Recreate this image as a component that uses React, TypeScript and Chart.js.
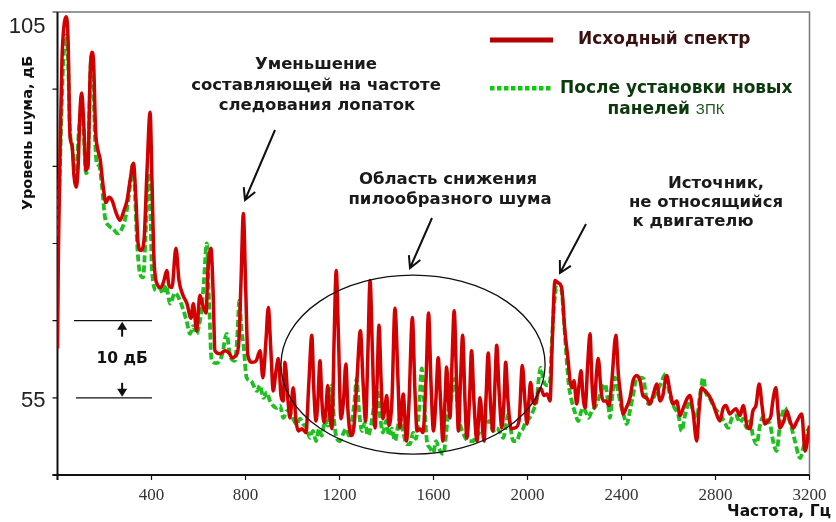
import React, { useEffect, useRef } from 'react';
import { Chart, registerables } from 'chart.js';

Chart.register(...registerables);

// Axis ticks
const freqTicks = [0, 400, 800, 1200, 1600, 2000, 2400, 2800, 3200];
const levelTicks = [45, 55, 65, 75, 85, 95, 105];
const levelLabels = [55, 105];

// Исходный спектр: frequency (Hz) and level (dB)
const redFreq = [
  0, 4, 11, 19, 28, 36, 45, 53, 62, 70, 79, 87, 96, 103, 111, 121, 130, 138, 146, 153,
  162, 172, 181, 194, 206, 219, 232, 249, 266, 283, 296, 309, 323, 334, 343, 355, 368, 381, 394, 402,
  410, 423, 440, 453, 465, 474, 487, 504, 517, 534, 551, 568, 578, 592, 606, 619, 632, 640, 653, 662,
  670, 691, 713, 730, 743, 760, 772, 781, 791, 800, 810, 828, 845, 862, 874, 887, 897, 908, 918, 930,
  940, 951, 960, 968, 981, 989, 1003, 1015, 1025, 1040, 1057, 1070, 1082, 1091, 1100, 1108, 1117, 1125, 1134, 1142,
  1150, 1159, 1168, 1177, 1186, 1196, 1206, 1217, 1227, 1236, 1249, 1262, 1274, 1289, 1300, 1311, 1321, 1330, 1340, 1351,
  1360, 1368, 1377, 1385, 1393, 1401, 1410, 1423, 1436, 1449, 1457, 1471, 1485, 1496, 1510, 1521, 1530, 1542, 1555, 1568,
  1579, 1589, 1600, 1610, 1620, 1630, 1640, 1649, 1656, 1664, 1670, 1679, 1688, 1698, 1706, 1715, 1724, 1734, 1742, 1753,
  1762, 1772, 1785, 1798, 1815, 1823, 1833, 1842, 1853, 1862, 1869, 1879, 1891, 1900, 1907, 1917, 1930, 1947, 1964, 1978,
  1989, 1998, 2006, 2013, 2023, 2032, 2045, 2057, 2070, 2083, 2096, 2104, 2117, 2130, 2145, 2159, 2173, 2181, 2189, 2198,
  2209, 2219, 2228, 2236, 2245, 2257, 2266, 2274, 2284, 2293, 2301, 2313, 2322, 2334, 2347, 2359, 2376, 2387, 2396, 2407,
  2419, 2436, 2449, 2465, 2479, 2491, 2507, 2521, 2534, 2550, 2564, 2576, 2592, 2606, 2620, 2635, 2649, 2663, 2679, 2691,
  2704, 2720, 2730, 2741, 2755, 2772, 2790, 2802, 2819, 2832, 2844, 2861, 2874, 2887, 2904, 2918, 2934, 2947, 2959, 2972,
  2986, 2998, 3010, 3023, 3036, 3044, 3057, 3066, 3074, 3091, 3104, 3117, 3131, 3147, 3167, 3181, 3200,
];
const redLevel = [
  61.4, 74.1, 87.1, 98.8, 103.3, 104.4, 101.4, 89.0, 87.7, 83.8, 82.3, 84.5, 92.3, 94.5, 91.0, 84.5, 85.1, 96.2, 99.8, 98.8,
  89.7, 87.1, 86.0, 82.5, 80.3, 81.0, 80.6, 79.0, 78.0, 79.3, 80.6, 83.2, 85.4, 80.6, 75.0, 74.1, 75.4, 84.5, 92.0, 83.2,
  73.4, 69.8, 69.3, 70.2, 71.5, 69.6, 69.3, 74.4, 70.2, 68.3, 67.2, 65.3, 67.2, 63.7, 68.3, 66.9, 66.0, 71.5, 74.4, 68.9,
  61.1, 60.7, 61.1, 60.8, 60.2, 60.5, 62.4, 70.2, 78.9, 70.2, 60.5, 59.6, 59.8, 61.1, 57.6, 62.4, 66.7, 61.1, 55.9, 58.5,
  60.1, 55.3, 54.6, 59.6, 54.6, 52.4, 56.3, 52.0, 50.7, 51.0, 50.5, 57.2, 63.1, 55.9, 52.0, 54.6, 59.8, 54.6, 51.8, 53.3,
  56.6, 52.7, 51.0, 62.4, 71.5, 62.4, 52.3, 54.6, 59.4, 53.3, 50.1, 51.4, 57.2, 63.7, 57.2, 52.0, 61.1, 70.2, 61.1, 51.1,
  57.2, 64.4, 57.2, 52.3, 53.6, 55.3, 51.4, 54.6, 66.6, 57.2, 51.1, 55.5, 49.4, 54.6, 65.4, 55.9, 50.7, 51.0, 50.5, 57.2,
  66.0, 57.2, 50.7, 54.6, 60.2, 54.6, 49.4, 54.6, 59.0, 54.6, 52.4, 59.8, 66.3, 57.2, 50.7, 57.2, 63.1, 54.6, 49.8, 54.6,
  61.1, 54.6, 49.4, 55.0, 49.4, 54.6, 60.8, 54.6, 50.7, 57.2, 61.8, 55.9, 51.1, 54.6, 59.6, 54.6, 51.0, 51.1, 52.0, 59.2,
  54.6, 51.6, 54.6, 57.0, 54.6, 54.2, 55.7, 56.2, 55.3, 55.5, 54.6, 61.1, 70.2, 69.9, 69.3, 63.7, 59.8, 57.2, 56.3, 57.2,
  54.2, 56.6, 58.5, 55.3, 53.7, 59.8, 63.3, 57.2, 53.7, 57.9, 60.1, 55.9, 54.6, 54.6, 54.0, 57.2, 63.1, 57.9, 55.5, 52.9,
  53.6, 55.0, 57.2, 57.9, 57.2, 55.3, 55.0, 54.2, 55.3, 56.8, 54.6, 55.3, 57.9, 55.9, 54.2, 54.6, 52.7, 53.7, 54.9, 55.3,
  53.3, 49.4, 53.3, 56.3, 55.9, 55.3, 54.2, 53.1, 52.0, 53.6, 54.0, 52.9, 53.3, 53.6, 52.7, 54.0, 51.4, 51.0, 53.3, 54.0,
  56.8, 54.0, 51.6, 52.0, 52.7, 54.6, 56.3, 53.3, 51.1, 52.0, 53.3, 52.0, 51.1, 52.0, 52.9, 48.1, 51.4,
];

// После установки новых панелей ЗПК: frequency (Hz) and level (dB)
const greenFreq = [
  0, 6, 15, 23, 32, 38, 45, 53, 62, 70, 77, 83, 91, 102, 111, 121, 130, 138, 143, 151,
  160, 167, 177, 189, 202, 219, 236, 257, 274, 291, 309, 321, 330, 338, 351, 364, 374, 386, 394, 402,
  422, 436, 449, 462, 479, 500, 521, 549, 564, 577, 592, 602, 614, 623, 635, 645, 656, 677, 700, 720,
  734, 755, 764, 774, 783, 791, 805, 823, 848, 862, 876, 891, 904, 933, 947, 961, 977, 989, 1018, 1032,
  1045, 1060, 1074, 1087, 1100, 1113, 1125, 1138, 1151, 1167, 1177, 1189, 1202, 1215, 1228, 1240, 1253, 1264, 1273, 1283,
  1296, 1308, 1321, 1334, 1347, 1360, 1372, 1385, 1398, 1411, 1423, 1436, 1449, 1457, 1470, 1486, 1500, 1513, 1525, 1538,
  1550, 1560, 1572, 1585, 1599, 1611, 1623, 1642, 1653, 1663, 1674, 1691, 1702, 1713, 1725, 1738, 1755, 1769, 1785, 1805,
  1819, 1840, 1853, 1869, 1883, 1897, 1908, 1918, 1930, 1939, 1954, 1968, 1981, 1993, 2006, 2018, 2028, 2039, 2047, 2056,
  2066, 2074, 2087, 2096, 2104, 2113, 2124, 2134, 2145, 2155, 2167, 2176, 2188, 2202, 2216, 2227, 2237, 2249, 2259, 2274,
  2291, 2308, 2330, 2342, 2351, 2361, 2372, 2385, 2398, 2410, 2422, 2436, 2449, 2465, 2479, 2493, 2504, 2514, 2530, 2547,
  2564, 2588, 2602, 2613, 2627, 2641, 2656, 2670, 2691, 2704, 2720, 2734, 2748, 2759, 2776, 2798, 2819, 2836, 2854, 2870,
  2887, 2904, 2917, 2933, 2947, 2959, 2975, 2989, 3006, 3019, 3032, 3045, 3060, 3074, 3096, 3108, 3124, 3138, 3160, 3176,
  3195, 3200,
];
const greenLevel = [
  76.0, 80.6, 89.7, 97.5, 101.4, 102.0, 98.8, 89.7, 87.7, 85.1, 83.6, 85.1, 89.7, 92.3, 89.7, 84.1, 85.8, 94.9, 99.2, 96.8,
  88.4, 85.4, 85.1, 82.5, 78.4, 77.3, 76.9, 76.3, 76.9, 78.6, 82.5, 85.4, 81.2, 75.4, 71.1, 70.6, 75.4, 84.1, 80.6, 71.5,
  68.9, 69.2, 68.5, 69.6, 67.2, 68.6, 67.6, 65.0, 63.3, 64.3, 63.3, 64.3, 66.7, 70.2, 75.0, 67.6, 59.8, 59.5, 60.5, 63.3,
  60.5, 59.8, 62.4, 67.6, 63.7, 62.0, 57.6, 57.2, 55.9, 56.6, 55.0, 55.7, 54.6, 53.7, 54.0, 52.4, 53.3, 53.1, 51.6, 52.3,
  51.6, 51.1, 49.8, 50.7, 49.4, 51.0, 50.1, 52.0, 51.4, 56.6, 52.0, 49.7, 49.4, 50.3, 51.0, 50.1, 52.0, 54.6, 57.5, 53.3,
  50.7, 51.8, 50.1, 51.4, 54.0, 56.2, 52.7, 50.5, 52.0, 50.1, 51.0, 49.4, 51.4, 52.4, 50.7, 49.0, 49.0, 50.5, 49.7, 53.3,
  58.8, 54.6, 49.4, 48.5, 47.9, 49.4, 48.4, 47.7, 50.1, 53.3, 54.6, 57.5, 54.0, 51.6, 50.5, 49.7, 49.4, 49.4, 50.5, 50.3,
  51.4, 52.0, 50.7, 51.1, 50.5, 49.8, 51.4, 52.9, 50.7, 49.4, 49.4, 50.5, 51.0, 52.0, 52.3, 52.9, 53.6, 54.6, 57.2, 58.9,
  57.5, 56.8, 56.6, 57.2, 62.4, 66.9, 69.3, 69.2, 68.9, 65.0, 59.8, 56.6, 54.6, 53.1, 52.0, 53.1, 53.7, 53.1, 52.4, 53.3,
  54.0, 55.3, 56.8, 54.6, 52.4, 55.3, 57.6, 55.9, 54.0, 52.7, 51.6, 53.3, 55.3, 57.6, 57.6, 57.5, 55.3, 54.2, 54.6, 55.7,
  56.6, 58.1, 55.9, 54.6, 53.6, 52.9, 50.7, 52.7, 54.6, 53.3, 52.4, 55.3, 57.6, 55.7, 54.9, 53.6, 52.9, 52.0, 51.1, 52.4,
  52.7, 51.8, 52.3, 51.1, 52.0, 50.1, 49.0, 51.4, 52.7, 52.0, 51.6, 49.4, 48.1, 51.4, 53.7, 52.7, 51.1, 49.4, 47.2, 48.8,
  50.9, 50.6,
];

const seriesNames = ['Исходный спектр', 'После установки новых панелей ЗПК'];

const RED = '#d20000';
const GREEN = '#1fbf1f';
const SANS = '"Liberation Sans", Arial, sans-serif';
const WIDE = '"DejaVu Sans", Verdana, sans-serif';
const SERIF = '"Liberation Serif", "Times New Roman", serif';

function arrow(ctx: CanvasRenderingContext2D, x1: number, y1: number, x2: number, y2: number) {
  const a = Math.atan2(y2 - y1, x2 - x1);
  const h = 13;
  ctx.beginPath();
  ctx.moveTo(x1, y1);
  ctx.lineTo(x2, y2);
  ctx.moveTo(x2 - h * Math.cos(a - 0.5), y2 - h * Math.sin(a - 0.5));
  ctx.lineTo(x2, y2);
  ctx.lineTo(x2 - h * Math.cos(a + 0.5), y2 - h * Math.sin(a + 0.5));
  ctx.stroke();
}

function filledArrow(ctx: CanvasRenderingContext2D, x: number, yFrom: number, yTo: number) {
  const dir = yTo > yFrom ? 1 : -1;
  ctx.beginPath();
  ctx.moveTo(x, yFrom);
  ctx.lineTo(x, yTo - dir * 6);
  ctx.stroke();
  ctx.beginPath();
  ctx.moveTo(x, yTo);
  ctx.lineTo(x - 5, yTo - dir * 8);
  ctx.lineTo(x + 5, yTo - dir * 8);
  ctx.closePath();
  ctx.fill();
}

const axesPlugin = {
  id: 'spectrumAxes',
  beforeDatasetsDraw(chart: any) {
    const { ctx, chartArea: ca, scales } = chart;
    const xs = scales.x;
    const ys = scales.y;
    ctx.save();
    // top and right frame
    ctx.strokeStyle = '#777';
    ctx.lineWidth = 1.5;
    ctx.beginPath();
    ctx.moveTo(ca.left, ca.top);
    ctx.lineTo(ca.right, ca.top);
    ctx.lineTo(ca.right, ca.bottom);
    ctx.stroke();
    // main axes
    ctx.strokeStyle = '#111';
    ctx.lineWidth = 2;
    ctx.beginPath();
    ctx.moveTo(ca.left, ca.top);
    ctx.lineTo(ca.left, ca.bottom + 5);
    ctx.moveTo(ca.left - 5, ca.bottom);
    ctx.lineTo(ca.right, ca.bottom);
    ctx.stroke();
    ctx.lineWidth = 1.2;
    ctx.beginPath();
    for (const f of freqTicks) {
      const x = xs.getPixelForValue(f);
      ctx.moveTo(x, ca.bottom);
      ctx.lineTo(x, ca.bottom + 5);
    }
    for (const v of levelTicks) {
      const y = ys.getPixelForValue(v);
      ctx.moveTo(ca.left - 5, y);
      ctx.lineTo(ca.left, y);
    }
    ctx.stroke();

    // frequency tick labels
    ctx.fillStyle = '#333';
    ctx.font = `17px ${SERIF}`;
    ctx.textAlign = 'center';
    ctx.textBaseline = 'middle';
    for (const f of freqTicks) {
      if (f === 0) continue;
      ctx.fillText(String(f), xs.getPixelForValue(f), ca.bottom + 21);
    }
    // level labels
    ctx.fillStyle = '#222';
    ctx.font = `22px ${SANS}`;
    ctx.textAlign = 'right';
    for (const v of levelLabels) {
      const y = ys.getPixelForValue(v) + (v === 105 ? 15 : 3);
      ctx.fillText(String(v), ca.left - 12, y);
    }
    // axis titles
    ctx.fillStyle = '#111';
    ctx.font = `bold 15.5px ${WIDE}`;
    ctx.textAlign = 'right';
    ctx.fillText('Частота, Гц', 831, 512);
    ctx.save();
    ctx.translate(28, 133);
    ctx.rotate(-Math.PI / 2);
    ctx.textAlign = 'center';
    ctx.font = `bold 14.5px ${WIDE}`;
    ctx.fillText('Уровень шума, дБ', 0, 0);
    ctx.restore();
    ctx.restore();
  },
  afterDatasetsDraw(chart: any) {
    const { ctx, scales } = chart;
    const xs = scales.x;
    const ys = scales.y;
    ctx.save();

    // legend
    ctx.strokeStyle = '#b30000';
    ctx.lineWidth = 5;
    ctx.beginPath();
    ctx.moveTo(490, 40);
    ctx.lineTo(553, 40);
    ctx.stroke();
    ctx.fillStyle = '#11c811';
    for (let x = 490; x < 548; x += 7) ctx.fillRect(x, 86, 4.5, 4.5);
    ctx.textBaseline = 'middle';
    ctx.textAlign = 'left';
    ctx.font = `bold 17px ${WIDE}`;
    ctx.fillStyle = '#3a1010';
    ctx.fillText(seriesNames[0], 578, 40);
    ctx.fillStyle = '#0c3a0c';
    ctx.fillText('После установки новых', 560, 89);
    const w1 = ctx.measureText('панелей ').width;
    ctx.font = `15px ${SANS}`;
    const w2 = ctx.measureText('ЗПК').width;
    const sx = 666 - (w1 + w2) / 2;
    ctx.font = `bold 17px ${WIDE}`;
    ctx.fillText('панелей ', sx, 110);
    ctx.font = `15px ${SANS}`;
    ctx.fillStyle = '#1d5a1d';
    ctx.fillText('ЗПК', sx + w1, 110);

    // annotation texts
    ctx.fillStyle = '#1a1a1a';
    ctx.font = `bold 16.5px ${WIDE}`;
    ctx.textAlign = 'center';
    const notes: [string, number, number][] = [
      ['Уменьшение', 316, 65],
      ['составляющей на частоте', 316, 86],
      ['следования лопаток', 317, 106],
      ['Область снижения', 448, 180],
      ['пилообразного шума', 450, 200],
      ['Источник,', 716, 184],
      ['не относящийся', 706, 203],
      ['к двигателю', 693, 222],
    ];
    for (const [t, x, y] of notes) ctx.fillText(t, x, y);

    // arrows
    ctx.strokeStyle = '#111';
    ctx.lineWidth = 2;
    arrow(ctx, 275, 130, 245, 200);
    arrow(ctx, 432, 218, 410, 268);
    arrow(ctx, 586, 224, 560, 273);

    // region ellipse
    const cx = xs.getPixelForValue(1513);
    const cy = ys.getPixelForValue(59.3);
    const rx = xs.getPixelForValue(1513 + 562) - cx;
    const ry = cy - ys.getPixelForValue(59.3 + 11.6);
    ctx.lineWidth = 1.3;
    ctx.beginPath();
    ctx.ellipse(cx, cy, rx, ry, 0, 0, Math.PI * 2);
    ctx.stroke();

    // 10 dB scale bar
    const y65 = ys.getPixelForValue(65);
    const y55 = ys.getPixelForValue(55);
    const xa = xs.getPixelForValue(70);
    const xb = xs.getPixelForValue(402);
    const xm = xs.getPixelForValue(275);
    ctx.lineWidth = 1.2;
    ctx.beginPath();
    ctx.moveTo(xa, y65);
    ctx.lineTo(xb, y65);
    ctx.moveTo(xa + 2, y55);
    ctx.lineTo(xb, y55);
    ctx.stroke();
    ctx.fillStyle = '#111';
    ctx.lineWidth = 2;
    filledArrow(ctx, xm, y65 + 16, y65 + 1);
    filledArrow(ctx, xm, y55 - 15, y55 - 1);
    ctx.font = `bold 15.5px ${WIDE}`;
    ctx.textAlign = 'center';
    ctx.fillText('10 дБ', xm, (y65 + y55) / 2);

    ctx.restore();
  },
};

export default function App() {
  const ref = useRef<HTMLCanvasElement | null>(null);
  useEffect(() => {
    if (!ref.current) return;
    const chart = new Chart(ref.current, {
      type: 'line',
      data: {
        datasets: [
          {
            label: seriesNames[0],
            data: redFreq.map((f, i) => ({ x: f, y: redLevel[i] })),
            borderColor: RED,
            borderWidth: 3.5,
            pointRadius: 0,
            cubicInterpolationMode: 'monotone',
            fill: false,
          },
          {
            label: seriesNames[1],
            data: greenFreq.map((f, i) => ({ x: f, y: greenLevel[i] })),
            borderColor: GREEN,
            borderWidth: 3.8,
            borderDash: [7, 3],
            pointRadius: 0,
            cubicInterpolationMode: 'monotone',
            fill: false,
          },
        ],
      },
      options: {
        animation: false,
        responsive: false,
        devicePixelRatio: 1,
        layout: { padding: { left: 57.5, right: 26.5, top: 12, bottom: 47 } },
        plugins: { legend: { display: false }, tooltip: { enabled: false } },
        scales: {
          x: { type: 'linear', min: 0, max: 3200, display: false },
          y: { type: 'linear', min: 45, max: 105, display: false },
        },
      },
      plugins: [axesPlugin],
    });
    return () => chart.destroy();
  }, []);
  return (
    <div style={{ position: 'fixed', left: 0, top: 0, width: 836, height: 522, background: '#fff' }}>
      <canvas ref={ref} width={836} height={522} />
    </div>
  );
}
